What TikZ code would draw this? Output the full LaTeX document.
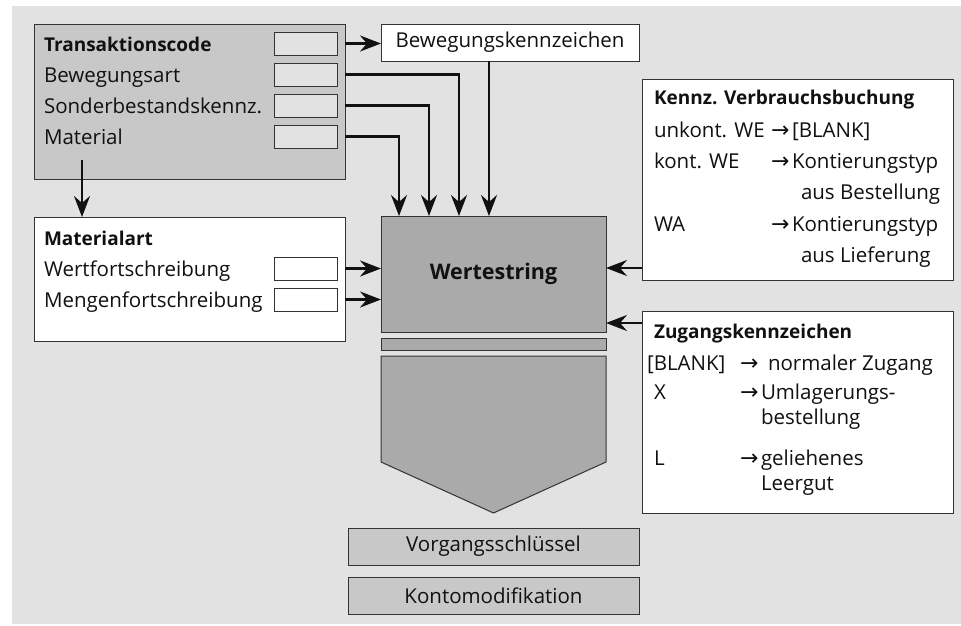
\documentclass[tikz,border=0pt]{standalone}
\usepackage{fontspec}
\setmainfont{Open Sans}
\newfontfamily\arrfont{DejaVu Sans}
\usetikzlibrary{arrows.meta}
\definecolor{bg}{HTML}{E2E2E2}
\definecolor{mid}{HTML}{C8C8C8}
\definecolor{dark}{HTML}{AAAAAA}
\definecolor{edge}{HTML}{333333}
\definecolor{ink}{HTML}{111111}
\newcommand{\ar}{{\arrfont\fontsize{22}{24}\selectfont →}}
\begin{document}
\begin{tikzpicture}[x=1pt,y=-1pt,
  box/.style={draw=edge, line width=1pt, inner sep=0pt, outer sep=0pt, anchor=north west, text=ink, font=\fontsize{20.5}{24}\selectfont},
  txt/.style={anchor=base west, inner sep=0pt, outer sep=0pt, text=ink, font=\fontsize{20.5}{24}\selectfont},
  btxt/.style={txt, font=\fontsize{19}{24}\selectfont\bfseries},
  conn/.style={line width=2.2pt, draw=ink, -{Stealth[length=21pt,width=16pt,inset=7pt]}},
]
\useasboundingbox (0,0) rectangle (961,625);
\fill[bg] (12,6) rectangle (961,624);

% Transaktionscode box
\node[box, fill=mid, minimum width=311pt, minimum height=155pt] (tc) at (34,24) {};
\node[box, fill=bg, minimum width=63pt, minimum height=23pt] (tb1) at (274,32) {};
\node[box, fill=bg, minimum width=63pt, minimum height=23pt] (tb2) at (274,63) {};
\node[box, fill=bg, minimum width=63pt, minimum height=23pt] (tb3) at (274,94) {};
\node[box, fill=bg, minimum width=63pt, minimum height=23pt] (tb4) at (274,125) {};
\node[btxt] (t1) at (44,51) {Transaktionscode};
\node[txt] (t2) at (44,82) {Bewegungsart};
\node[txt] (t3) at (44,113) {Sonderbestandskennz.};
\node[txt] (t4) at (44,144) {Material};

% Bewegungskennzeichen
\node[box, fill=white, minimum width=258pt, minimum height=37pt] (bk) at (381,24) {Bewegungskennzeichen};

% Materialart
\node[box, fill=white, minimum width=311pt, minimum height=124pt] (ma) at (34,217) {};
\node[box, fill=white, minimum width=63pt, minimum height=23pt] (mb1) at (274,257) {};
\node[box, fill=white, minimum width=63pt, minimum height=23pt] (mb2) at (274,288) {};
\node[btxt] (m1) at (44,245) {Materialart};
\node[txt] (m2) at (44,276) {Wertfortschreibung};
\node[txt] (m3) at (44,307) {Mengenfortschreibung};

% Wertestring column
\node[box, fill=dark, minimum width=225pt, minimum height=116pt, font=\fontsize{21.5}{26}\selectfont\bfseries] (ws) at (381,216) {Wertestring};
\node[box, fill=dark, minimum width=225pt, minimum height=12pt] (bar) at (381,338) {};
\draw[draw=edge, line width=1pt, fill=dark] (381,356) -- (606,356) -- (606,462) -- (493.5,513) -- (381,462) -- cycle;
\node[box, fill=mid, minimum width=291pt, minimum height=37pt] (vs) at (348,528) {Vorgangsschlüssel};
\node[box, fill=mid, minimum width=291pt, minimum height=37pt] (km) at (348,577) {Kontomodifikation};

% Kennz. Verbrauchsbuchung
\node[box, fill=white, minimum width=311pt, minimum height=201pt] (kv) at (642,79) {};
\node[btxt] (k0) at (654,104) {Kennz. Verbrauchsbuchung};
\node[txt] (k1) at (654,137) {unkont. WE};
\node[txt] (k2) at (654,168) {kont. WE};
\node[txt] (k3) at (654,231) {WA};
\node[txt] (ka1) at (771,137) {\ar};
\node[txt] (ka2) at (771,168) {\ar};
\node[txt] (ka3) at (771,231) {\ar};
\node[txt] (kr1) at (792,137) {[BLANK]};
\node[txt] (kr2) at (792,168) {Kontierungstyp};
\node[txt] (kr2b) at (801,199) {aus Bestellung};
\node[txt] (kr3) at (792,231) {Kontierungstyp};
\node[txt] (kr3b) at (801,262) {aus Lieferung};

% Zugangskennzeichen
\node[box, fill=white, minimum width=311pt, minimum height=202pt] (zk) at (642,311) {};
\node[btxt] (z0) at (654,338) {Zugangskennzeichen};
\node[txt] (z1) at (647,370) {[BLANK]};
\node[txt] (z2) at (654,399) {X};
\node[txt] (z3) at (654,465) {L};
\node[txt] (za1) at (740,370) {\ar};
\node[txt] (za2) at (740,399) {\ar};
\node[txt] (za3) at (740,465) {\ar};
\node[txt] (zr1) at (768,370) {normaler Zugang};
\node[txt] (zr2) at (761,399) {Umlagerungs-};
\node[txt] (zr2b) at (761,424) {bestellung};
\node[txt] (zr3) at (761,465) {geliehenes};
\node[txt] (zr3b) at (761,490) {Leergut};

% connectors
\coordinate (in1) at (399,216);
\coordinate (in2) at (429,216);
\coordinate (in3) at (459,216);
\coordinate (in4) at (489,216);
\coordinate (tcd) at (82,160);
\coordinate (r1) at (642,268);
\coordinate (r2) at (642,323);
\draw[conn] (tb1.east -| tc.east) -- (tb1.east -| bk.west);
\draw[conn] (tb2.east -| tc.east) -| (in3);
\draw[conn] (tb3.east -| tc.east) -| (in2);
\draw[conn] (tb4.east -| tc.east) -| (in1);
\draw[conn] (in4 |- bk.south) -- (in4);
\draw[conn] (tcd) -- (tcd |- ma.north);
\draw[conn] (mb1.east -| ma.east) -- (mb1.east -| ws.west);
\draw[conn] (mb2.east -| ma.east) -- (mb2.east -| ws.west);
\draw[conn] (r1) -- (r1 -| ws.east);
\draw[conn] (r2) -- (r2 -| ws.east);
\end{tikzpicture}
\end{document}
